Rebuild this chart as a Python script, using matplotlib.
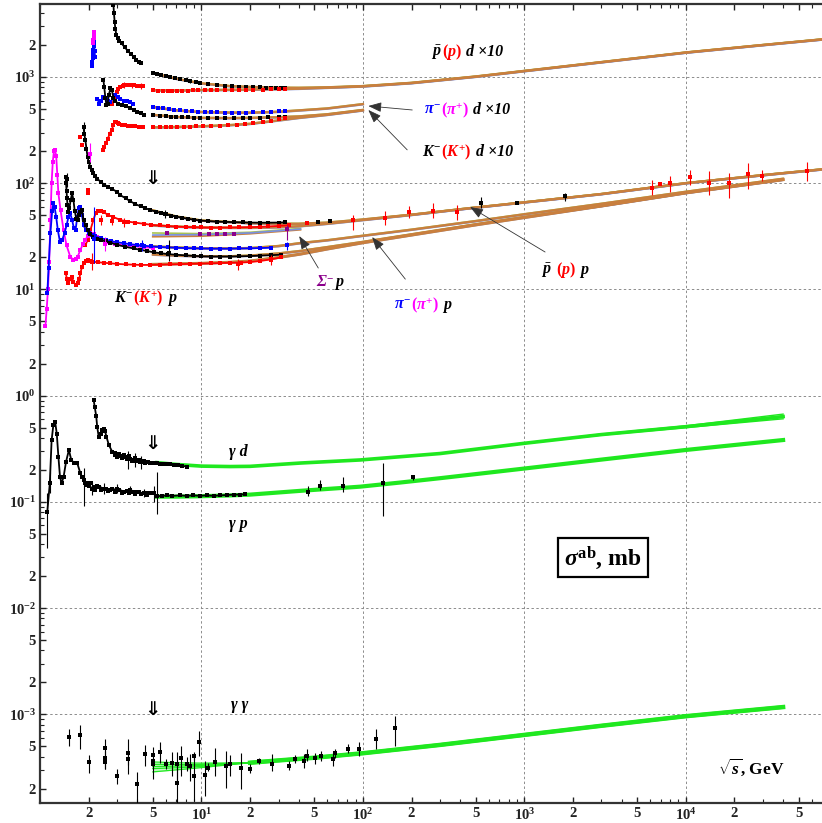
import numpy as np
import matplotlib
matplotlib.use("Agg")
import matplotlib.pyplot as plt
from matplotlib.offsetbox import TextArea, HPacker, AnnotationBbox
from matplotlib.ticker import FixedLocator, FixedFormatter, NullFormatter

plt.rcParams.update({
    'font.family': ['Liberation Serif', 'DejaVu Serif'],
    'font.weight': 'bold',
    'mathtext.fontset': 'custom',
    'mathtext.rm': 'Liberation Serif:bold',
    'mathtext.it': 'Liberation Serif:italic:bold',
    'mathtext.bf': 'Liberation Serif:bold',
    'mathtext.sf': 'Liberation Serif:bold',
})

# ---------------- hadron-deuteron data (x10) ----------------
pbar_d_lo_x = [2.85, 2.87, 2.90, 2.93, 2.97, 3.02, 3.10, 3.20, 3.35, 3.50, 3.65, 3.80, 3.95, 4.10, 4.20]
pbar_d_lo_y = [4800, 4000, 3300, 2800, 2500, 2330, 2200, 2070, 1900, 1760, 1650, 1550, 1460, 1390, 1340]
pbar_d_hi_x = [5.04, 5.3, 5.6, 6.0, 6.4, 6.9, 7.4, 8.0, 8.5, 9.2, 9.8, 11, 12.5, 14, 15.5, 17, 19, 21, 23, 25, 27, 29, 31, 33]
pbar_d_hi_y = [1090, 1070, 1050, 1020, 1000, 980, 960, 930, 910, 890, 870, 850, 835, 825, 815, 810, 805, 800, 797, 795, 792, 790, 789, 788]

p_d_lo_x = [2.80, 2.90, 3.00, 3.06, 3.15, 3.25, 3.38, 3.50, 3.63, 3.80, 4.00, 4.20, 4.37]
p_d_lo_y = [560, 640, 720, 770, 810, 830, 840, 845, 840, 835, 830, 825, 820]
p_d_hi_x = [5.04, 5.4, 5.8, 6.2, 6.6, 7.1, 7.6, 8.2, 8.8, 9.5, 10.5, 11.5, 12.5, 14, 15.5, 17, 19, 21, 24, 27, 30, 33]
p_d_hi_y = [750, 745, 740, 738, 737, 740, 742, 745, 748, 752, 752, 750, 748, 750, 752, 755, 757, 760, 762, 765, 768, 770]

pim_d_spike_x = [2.10, 2.11, 2.12, 2.13, 2.14, 2.15, 2.16, 2.17, 2.18, 2.19]
pim_d_spike_y = [1280, 1380, 1500, 1650, 1800, 2000, 2150, 1950, 1750, 1550]
pip_d_spike_x = [2.13, 2.14, 2.15, 2.16, 2.17]
pip_d_spike_y = [2100, 2250, 2450, 2650, 2350]
pim_d_lo_x = [2.27, 2.33, 2.40, 2.47, 2.55, 2.65, 2.73, 2.85, 2.93, 3.06, 3.15, 3.30, 3.45, 3.60, 3.75]
pim_d_lo_y = [620, 560, 600, 650, 640, 600, 580, 640, 670, 650, 620, 600, 590, 580, 560]
pim_d_hi_x = [5.04, 5.4, 5.8, 6.3, 6.8, 7.4, 8.0, 8.7, 9.5, 10.5, 11.5, 12.5, 14, 15.5, 17, 19, 21, 24, 27, 30, 33]
pim_d_hi_y = [522, 515, 505, 498, 490, 485, 480, 475, 470, 468, 466, 465, 462, 460, 460, 461, 463, 466, 470, 475, 480]

km_d_lo_x = [2.47, 2.50, 2.54, 2.58, 2.62, 2.67, 2.73, 2.78, 2.85, 2.93, 3.06, 3.20, 3.40, 3.60, 3.80, 4.00, 4.20, 4.40]
km_d_lo_y = [940, 800, 640, 540, 560, 680, 780, 760, 640, 590, 560, 545, 530, 510, 490, 470, 455, 440]
km_d_hi_x = [5.04, 5.5, 6.0, 6.5, 7.0, 7.6, 8.2, 9.0, 9.8, 11, 12.5, 14, 16, 18, 20, 23, 26, 30, 33]
km_d_hi_y = [440, 432, 426, 422, 420, 418, 416, 414, 412, 411, 410, 410, 410, 411, 412, 414, 416, 418, 420]

kp_d_lo_x = [2.44, 2.50, 2.56, 2.62, 2.70, 2.78, 2.85, 2.90, 2.95, 3.02, 3.10, 3.20, 3.35, 3.50, 3.70, 3.90, 4.10, 4.37]
kp_d_lo_y = [205, 220, 240, 260, 290, 320, 350, 375, 380, 370, 360, 355, 350, 347, 345, 342, 340, 338]
kp_d_hi_x = [5.04, 5.5, 6.0, 6.5, 7.1, 7.8, 8.5, 9.3, 10.2, 11.5, 13, 14.5, 16.5, 18.5, 21, 24, 27, 30, 33]
kp_d_hi_y = [335, 336, 337, 338, 339, 340, 341, 342, 343, 345, 347, 350, 354, 358, 365, 375, 388, 400, 411]

# fitted curves, hadron-deuteron
hd_fit_x = [5, 7, 10, 15, 20, 30, 40, 60, 100, 200, 500, 1000, 3000, 1e4, 3e4, 7e4]
pbar_d_fit = [1090, 960, 870, 820, 805, 792, 790, 798, 820, 880, 1010, 1140, 1380, 1700, 2000, 2260]
p_d_fit = [750, 745, 752, 756, 760, 768, 775, 792, 815, 875, 1005, 1135, 1375, 1695, 1995, 2255]
md_fit_x = [5, 7, 10, 15, 20, 30, 40, 60, 100]
pi_d_fit = [522, 485, 468, 462, 461, 470, 484, 505, 555]
km_d_fit = [440, 420, 412, 410, 412, 418, 425, 445, 489]
kp_d_fit = [335, 338, 343, 352, 362, 390, 412, 440, 485]

# ---------------- hadron-proton data ----------------
pbar_p_x = [1.86, 1.88, 1.91, 1.94, 1.97, 2.0, 2.05, 2.1, 2.14, 2.2, 2.27, 2.37, 2.5, 2.65, 2.8, 3.0, 3.15, 3.4, 3.6, 3.9,
            4.2, 4.5, 4.83, 5.2, 5.6, 6.0, 6.5, 7.0, 7.6, 8.2, 9.0, 9.8, 11, 12.5, 14, 16, 18, 20, 23, 26, 30, 33]
pbar_p_y = [339, 290, 255, 210, 176, 160, 142, 132, 125, 118, 110, 103, 97, 92, 88, 83, 77, 72, 68, 63.5,
            60.5, 58, 56, 54, 52.5, 51, 49.5, 48.5, 47.3, 46.3, 45.3, 44.5, 44, 43.5, 43.2, 43, 42.8, 42.6, 42.5, 42.5, 42.6, 42.8]
pp_x = [1.91, 1.97, 2.05, 2.14, 2.21, 2.30, 2.40, 2.50, 2.65, 2.85, 3.15, 3.5, 3.9, 4.4, 4.9, 5.5, 6.2, 7.0, 8.0, 9.0,
        10, 11.5, 13, 15, 17, 20, 23, 26, 30, 35]
pp_y = [26, 29, 36, 45, 52, 55, 55, 53, 50, 48, 45, 43.5, 42.5, 41.5, 40.5, 40, 39.5, 39, 38.7, 38.5,
        38.3, 38.2, 38.2, 38.3, 38.4, 38.6, 38.8, 39.2, 39.6, 40.2]
pp_stray_x = [1.78, 1.82, 1.97, 1.99]
pp_stray_y = [270, 230, 86, 80]

pim_p_x = [1.11, 1.13, 1.16, 1.19, 1.21, 1.23, 1.26, 1.29, 1.33, 1.37, 1.42, 1.46, 1.50, 1.54, 1.58, 1.62, 1.66, 1.70,
           1.74, 1.78, 1.82, 1.86, 1.93, 2.0, 2.1, 2.2, 2.37, 2.55, 2.75, 3.0, 3.3, 3.6, 4.0, 4.4, 4.9, 5.5, 6.2, 7.0,
           8.0, 9.0, 10, 11.5, 13, 15, 17, 20, 23, 27]
pim_p_y = [9.2, 16, 34, 55, 65, 60, 48, 36, 28, 29, 34, 40, 48, 52, 45, 38, 36, 48,
           58, 60, 50, 40, 36, 34, 32.5, 31.5, 30.5, 29.5, 28.5, 27.8, 27.2, 26.7, 26.2, 25.8, 25.4, 25.1, 24.9, 24.7,
           24.5, 24.4, 24.3, 24.2, 24.2, 24.2, 24.3, 24.4, 24.5, 24.7]
pip_p_x = [1.08, 1.10, 1.12, 1.14, 1.16, 1.18, 1.20, 1.22, 1.24, 1.26, 1.28, 1.30, 1.34, 1.40, 1.46, 1.54, 1.61,
           1.66, 1.71, 1.78, 1.85, 1.91, 1.98, 2.05, 2.15, 2.25, 2.37, 2.6, 2.9, 3.3, 3.8, 4.4, 5.0]
pip_p_y = [4.5, 6.5, 10, 18, 45, 100, 160, 200, 205, 180, 120, 80, 56, 36, 26, 20.3, 19,
           19.5, 20.3, 23.6, 27, 29.3, 32, 34, 33, 31, 29.5, 28, 27, 26, 25.5, 25, 24.5]

km_p_x = [1.44, 1.45, 1.46, 1.47, 1.48, 1.50, 1.52, 1.55, 1.58, 1.61, 1.64, 1.68, 1.71, 1.75, 1.78, 1.82, 1.86, 1.92,
          1.97, 2.05, 2.14, 2.25, 2.37, 2.55, 2.73, 3.0, 3.38, 3.8, 4.18, 4.6, 5.1, 5.6, 6.2, 7.0, 8.0, 9.0, 10,
          11.5, 13, 15, 17, 20, 23, 27, 31]
km_p_y = [115, 100, 85, 72, 62, 53, 58, 70, 80, 70, 55, 46, 45, 50, 53, 56, 45, 40,
          36, 33, 31, 30, 29.3, 28.3, 27.5, 26.3, 25.2, 24.3, 23.6, 23, 22.3, 21.9, 21.5, 21.2, 20.9, 20.7, 20.5,
          20.4, 20.4, 20.4, 20.5, 20.6, 20.8, 21.0, 21.2]
kp_p_x = [1.44, 1.47, 1.50, 1.54, 1.58, 1.61, 1.66, 1.71, 1.75, 1.78, 1.82, 1.86, 1.92, 1.97, 2.05, 2.14, 2.3, 2.5,
          2.73, 3.0, 3.4, 3.8, 4.2, 4.8, 5.5, 6.4, 7.4, 8.5, 9.8, 11.5, 13, 15, 17.5, 20, 23, 27, 31]
kp_p_y = [14.4, 12.5, 11.5, 12.5, 13, 11.8, 11, 11.5, 12.5, 14.4, 16.2, 17.8, 18.5, 19, 18.7, 18.2, 18.0, 17.8,
          17.6, 17.4, 17.2, 17.1, 17.0, 17.0, 17.1, 17.2, 17.3, 17.4, 17.5, 17.6, 17.7, 17.8, 17.9, 18.1, 18.5, 19.2, 20]

sigma_p_x = [6.1, 9.8, 11.1, 12.5, 14.0, 15.8, 33.8]
sigma_p_y = [34, 33.1, 33.1, 33.1, 33.1, 33.1, 36.8]

# high-energy pp / pbar-p points with errors
pp_he_x = [45, 86.7, 137, 194, 273, 385, 6140, 6920, 7980, 10600, 13960, 18500, 24300, 29700, 56400]
pp_he_y = [42, 45, 46.8, 53.3, 55.3, 53.8, 90, 98, 101, 115, 101, 99.8, 122, 118, 131]
pp_he_lo = [41, 36.3, 40.4, 46.8, 46.8, 45, 77, 96, 83, 95.8, 77, 72, 88, 104, 104]
pp_he_hi = [43, 50.2, 55.2, 60.6, 64.7, 62.2, 107, 100, 116, 133, 129, 124, 154, 133, 160]
pbar_p_he_x = [53, 62.8, 540, 900, 1785]
pbar_p_he_y = [43.4, 44, 65.6, 65.6, 75]
pbar_p_he_lo = [42.5, 43, 58.4, 64.5, 68]
pbar_p_he_hi = [44.3, 45, 73.7, 66.7, 81.4]

# fitted curves, hadron-proton
hp_fit_x = [5, 7, 10, 15, 20, 30, 40, 60, 100, 200, 500, 1000, 3000, 1e4, 3e4, 7e4]
pbar_p_fit = [55.5, 48.5, 44.5, 43, 42, 41.5, 41.5, 42.5, 45.5, 50.5, 59, 66, 79, 100, 119, 135]
pp_fit = [40, 39, 38.3, 38, 38, 38.5, 39.3, 41.5, 45, 50.3, 59, 66, 79, 100, 119, 135]
mp_fit_x = [5, 7, 10, 15, 20, 30, 41, 60, 100, 200, 500, 1000, 3000, 1e4, 4e4]
pi_p_fit = [25.4, 24.8, 24.4, 24.3, 24.5, 25.6, 27.3, 29, 32, 36.5, 44, 51, 64, 83, 110]
km_p_fit = [21.3, 20.8, 20.5, 20.5, 20.8, 21.8, 23, 25, 28, 33, 41, 48, 61, 81, 108]
kp_p_fit = [17.2, 17.4, 17.6, 18.0, 18.5, 20, 21.5, 24, 27.5, 32.5, 40.5, 47.5, 61, 81, 108]
sig_fit_x = [5, 10, 20, 41]
sig_fit_a = [34, 33.5, 34.5, 37.5]
sig_fit_b = [31.4, 31.8, 33.5, 36.5]
sig_fit_c = [32.5, 32.8, 34, 37]

# ---------------- photon data ----------------
gp_x = [1.11, 1.15, 1.18, 1.21, 1.24, 1.27, 1.30, 1.33, 1.36, 1.40, 1.45, 1.51, 1.56, 1.62, 1.70, 1.78, 1.87, 1.98,
        2.10, 2.26, 2.48, 2.73, 3.0, 3.3, 3.63, 3.99, 4.39, 4.71, 5.06, 5.31, 5.7, 6.13, 6.6, 7.4, 8.1, 8.9, 9.8,
        10.8, 11.9, 13.1, 14.4, 15.8, 17.2, 18.7]
gp_y = [0.081, 0.149, 0.38, 0.53, 0.57, 0.44, 0.266, 0.172, 0.149, 0.172, 0.239, 0.308, 0.25, 0.232, 0.232, 0.185,
        0.159, 0.149, 0.133, 0.142, 0.133, 0.128, 0.133, 0.125, 0.128, 0.125, 0.120, 0.122, 0.120, 0.113, 0.114,
        0.115, 0.114, 0.115, 0.114, 0.115, 0.114, 0.115, 0.114, 0.115, 0.116, 0.117, 0.117, 0.118]
gp_x2 = [1.82, 1.90, 1.95, 2.02, 2.06, 2.15, 2.2, 2.32, 2.4, 2.55, 2.62, 2.8, 2.9, 3.1, 3.2, 3.45, 3.55, 3.75, 3.85,
         4.1, 4.25, 4.5, 4.6, 4.85]
gp_y2 = [0.17, 0.15, 0.145, 0.14, 0.152, 0.138, 0.13, 0.137, 0.128, 0.132, 0.126, 0.131, 0.124, 0.128, 0.122, 0.127,
         0.121, 0.124, 0.119, 0.123, 0.118, 0.121, 0.117, 0.12]
gp_err_x = [1.11, 1.15, 1.87, 2.10, 2.48, 3.0, 3.63, 4.39, 5.06, 5.31]
gp_err_y = [0.081, 0.149, 0.159, 0.133, 0.133, 0.133, 0.128, 0.120, 0.120, 0.113]
gp_err_lo = [0.037, 0.12, 0.091, 0.115, 0.118, 0.12, 0.118, 0.11, 0.10, 0.077]
gp_err_hi = [0.12, 0.19, 0.21, 0.155, 0.15, 0.147, 0.14, 0.132, 0.14, 0.19]
gp_he_x = [45.4, 53.9, 75.2, 134, 205]
gp_he_y = [0.125, 0.142, 0.142, 0.149, 0.170]
gp_he_lo = [0.113, 0.128, 0.124, 0.073, 0.160]
gp_he_hi = [0.142, 0.159, 0.172, 0.232, 0.180]

gd_x = [2.15, 2.18, 2.23, 2.26, 2.31, 2.37, 2.42, 2.48, 2.53, 2.58, 2.67, 2.80, 2.93, 3.05, 3.15, 3.27, 3.38, 3.5,
        3.63, 3.77, 3.90, 4.04, 4.18, 4.34, 4.50, 4.66, 4.83, 5.06, 5.31, 5.57, 5.83, 6.1, 6.42, 6.8, 7.2, 7.6, 8.13]
gd_y = [0.91, 0.79, 0.64, 0.51, 0.41, 0.44, 0.47, 0.49, 0.46, 0.41, 0.343, 0.297, 0.277, 0.285, 0.272, 0.265, 0.266,
        0.26, 0.254, 0.25, 0.254, 0.245, 0.239, 0.24, 0.234, 0.236, 0.232, 0.231, 0.232, 0.229, 0.228, 0.226, 0.225,
        0.223, 0.22, 0.218, 0.215]
gd_x2 = [2.9, 3.0, 3.1, 3.2, 3.3, 3.45, 3.55, 3.7, 3.85, 3.95, 4.1, 4.25, 4.4]
gd_y2 = [0.29, 0.265, 0.28, 0.26, 0.275, 0.255, 0.27, 0.245, 0.26, 0.24, 0.25, 0.235, 0.245]

g_fit_x = [5.3, 7, 10, 15, 20, 41, 96, 170, 300, 1000, 3000, 1e4, 4e4]
gp_fit = [0.112, 0.112, 0.113, 0.115, 0.117, 0.127, 0.139, 0.152, 0.167, 0.206, 0.25, 0.308, 0.382]
gd_fit = [0.234, 0.225, 0.217, 0.215, 0.216, 0.232, 0.248, 0.266, 0.285, 0.356, 0.43, 0.51, 0.635]
gd_fit_lo = [0.234, 0.225, 0.217, 0.215, 0.216, 0.232, 0.248, 0.266, 0.285, 0.354, 0.425, 0.50, 0.605]
gd_fit_hi = [0.234, 0.225, 0.217, 0.215, 0.216, 0.232, 0.248, 0.266, 0.285, 0.358, 0.435, 0.52, 0.67]

gg_x = [1.51, 1.76, 2.0, 2.52, 2.52, 2.52, 3.0, 3.51, 3.51, 4.0, 4.5, 5.0, 5.0, 5.0, 5.5, 6.0, 6.6, 7.1, 7.1, 7.5,
        8.1, 8.5, 9.0, 9.0, 9.6, 10.5, 11.0, 12.2, 14.1, 15.1, 17.6, 20.1, 22.8, 27.3, 35.0, 37.7, 42.9, 45, 50.7,
        55, 64.9, 67.4, 80.4, 94.9, 121, 158]
gg_y = [6.16, 6.39, 3.58, 4.85, 3.9, 3.56, 2.63, 4.35, 3.77, 2.19, 4.20, 4.11, 3.63, 3.38, 4.42, 3.38, 3.51, 3.38,
        2.27, 3.9, 3.38, 3.26, 2.63, 4.05, 5.49, 2.68, 3.15, 3.56, 3.26, 3.38, 3.15, 3.08, 3.63, 3.38, 3.26, 3.77,
        3.63, 4.05, 3.9, 4.05, 3.77, 4.29, 4.75, 4.68, 5.82, 7.38]
gg_lo = [5.03, 4.75, 2.78, 4.2, 3.04, 3.04, 2.19, 2.72, 3.3, 1.47, 3.26, 2.44, 3.3, 3.1, 3.51, 3.04, 2.63, 2.27,
         1.47, 2.63, 2.93, 2.36, 1.53, 3.7, 4.05, 1.70, 2.93, 2.63, 2.04, 2.63, 1.97, 2.82, 3.38, 2.93, 2.99, 3.51,
         3.15, 3.63, 3.38, 3.63, 3.26, 3.9, 4.35, 4.05, 4.68, 5.03]
gg_hi = [7.33, 7.88, 4.17, 5.9, 4.5, 4.2, 3.08, 5.9, 4.2, 2.87, 5.14, 4.96, 3.9, 3.6, 5.49, 3.82, 4.42, 4.42, 3.51,
         5.03, 3.99, 4.2, 4.05, 4.4, 6.97, 3.63, 3.51, 4.85, 4.52, 4.14, 4.29, 3.38, 3.9, 4.2, 3.63, 4.11, 4.2, 4.68,
         4.35, 4.52, 4.35, 4.75, 5.22, 5.49, 7.22, 9.64]
gg_fit_x = [20, 30, 50, 100, 300, 1000, 3000, 1e4, 4e4]
gg_fit = [3.5, 3.68, 3.9, 4.3, 5.15, 6.4, 7.8, 9.6, 11.7]
gg_fan_x = [5, 7, 10, 14, 20]
gg_fan = [[3.56, 3.50, 3.47, 3.48, 3.5],
          [3.38, 3.36, 3.38, 3.44, 3.5],
          [3.22, 3.25, 3.30, 3.40, 3.5],
          [3.08, 3.14, 3.23, 3.36, 3.5],
          [2.87, 3.00, 3.15, 3.32, 3.5]]
GG_UNIT = 1e-4

# ---------------- styles ----------------
BLACK, RED, BLUE, MAG, PURP = 'black', '#ff0000', '#0000ff', '#ff00ff', '#8b008b'
FIT, FIT_B, FIT_G = '#c97f3e', '#7890e0', '#a9c34f'
GREEN = '#1fe81f'

fig = plt.figure(figsize=(8.22, 8.23), dpi=100)
ax = fig.add_axes([40 / 822, 20 / 823, 782 / 822, 799 / 823])
ax.set_xscale('log')
ax.set_yscale('log')
ax.set_xlim(1.0, 10 ** 4.843)
ax.set_ylim(10 ** -3.835, 10 ** 3.687)


def pts(x, y, color, ms=2.3, z=4, joined=False):
    ax.plot(x, y, ls='-' if joined else 'none', lw=1.3, marker='s', ms=ms, mew=0, color=color, zorder=z)


def ebar(x, y, lo, hi, color, ms=2.3):
    y = np.asarray(y, float)
    ax.errorbar(x, y, yerr=[y - np.asarray(lo), np.asarray(hi) - y], fmt='s', ms=ms, mew=0,
                color=color, ecolor=color, elinewidth=0.8, capsize=1.8, capthick=0.8, zorder=4)


def band(x, y, lw=1.7):
    y = np.asarray(y, float)
    ax.plot(x, y * 0.985, color=FIT_B, lw=1.0, zorder=3)
    ax.plot(x, y * 1.012, color=FIT_G, lw=1.0, zorder=3)
    ax.plot(x, y, color=FIT, lw=lw, zorder=3.2)


# fits
band(hd_fit_x, pbar_d_fit)
band(hd_fit_x, p_d_fit)
band(md_fit_x, pi_d_fit)
band(md_fit_x, km_d_fit)
band(md_fit_x, kp_d_fit)
band(hp_fit_x, pbar_p_fit)
band(hp_fit_x, pp_fit)
band(mp_fit_x, pi_p_fit)
band(mp_fit_x, km_p_fit)
band(mp_fit_x, kp_p_fit, lw=2.2)
ax.plot(sig_fit_x, sig_fit_a, color=FIT_G, lw=1.2, zorder=3)
ax.plot(sig_fit_x, sig_fit_b, color=FIT, lw=1.4, zorder=3)
ax.plot(sig_fit_x, sig_fit_c, color=FIT_B, lw=1.2, zorder=3)

# photon fits
ax.plot(g_fit_x, gp_fit, color=GREEN, lw=3.0, zorder=3)
ax.plot(g_fit_x, gd_fit, color=GREEN, lw=2.6, zorder=3)
ax.plot(g_fit_x, gd_fit_lo, color=GREEN, lw=1.0, zorder=3)
ax.plot(g_fit_x, gd_fit_hi, color=GREEN, lw=1.0, zorder=3)
gg_fit_arr = np.asarray(gg_fit) * GG_UNIT
ax.plot(gg_fit_x, gg_fit_arr, color=GREEN, lw=3.2, zorder=3)
ax.plot(gg_fit_x, gg_fit_arr * 0.975, color=GREEN, lw=1.0, zorder=3)
ax.plot(gg_fit_x, gg_fit_arr * 1.025, color=GREEN, lw=1.0, zorder=3)
for row in gg_fan:
    ax.plot(gg_fan_x, np.asarray(row) * GG_UNIT, color=GREEN, lw=0.9, zorder=3)
ax.fill_between(gg_fan_x, np.asarray(gg_fan[-1]) * GG_UNIT, np.asarray(gg_fan[0]) * GG_UNIT,
                color=GREEN, alpha=0.25, lw=0, zorder=2.9)

# hadron-deuteron points
pts(pbar_d_lo_x, pbar_d_lo_y, BLACK, ms=2.6, joined=True)
pts(pbar_d_hi_x, pbar_d_hi_y, BLACK, ms=2.6)
pts(p_d_lo_x, p_d_lo_y, RED, ms=2.6, joined=True)
pts(p_d_hi_x, p_d_hi_y, RED, ms=2.6)
pts(pim_d_spike_x, pim_d_spike_y, BLUE, joined=True)
pts(pip_d_spike_x, pip_d_spike_y, MAG, joined=True)
pts(pim_d_lo_x, pim_d_lo_y, BLUE, ms=2.6, joined=True)
pts(pim_d_hi_x, pim_d_hi_y, BLUE, ms=2.6)
pts(km_d_lo_x, km_d_lo_y, BLACK, ms=2.6, joined=True)
pts(km_d_hi_x, km_d_hi_y, BLACK, ms=2.6)
pts(kp_d_lo_x, kp_d_lo_y, RED, ms=2.6, joined=True)
pts(kp_d_hi_x, kp_d_hi_y, RED, ms=2.6)
ebar([3.3, 3.7, 4.2], [840, 835, 825], [790, 780, 775], [890, 880, 870], RED)
ebar([8.5], [910], [870], [960], BLACK)

# hadron-proton points
pts(pbar_p_x, pbar_p_y, BLACK, ms=2.6, joined=True)
pts(pp_x, pp_y, RED, ms=2.6, joined=True)
pts(pp_stray_x, pp_stray_y, RED)
pts(pip_p_x, pip_p_y, MAG, ms=2.8, joined=True)
pts(pim_p_x, pim_p_y, BLUE, ms=2.8, joined=True)
pts(km_p_x, km_p_y, BLACK, ms=2.8, joined=True)
pts(kp_p_x, kp_p_y, RED, ms=2.8, joined=True)
pts(sigma_p_x, sigma_p_y, PURP, ms=3.2)
ebar([33.8], [36.8], [29.3], [40.4], PURP, ms=3.2)
ebar([2.15, 4.28, 33.8], [30, 26, 26], [17.8, 22.8, 23.6], [60, 29.3, 28.2], BLUE)
ebar([2.05, 2.54], [190, 27], [157, 22.8], [238, 31.4], MAG)
ebar([1.47, 5.98, 6.3, 1.86], [110, 51, 22, 339], [92, 47, 18.6, 300], [125, 56, 29, 380], BLACK)
ebar([2.1, 2.4, 2.8, 3.3, 16.9, 27], [18, 45, 44, 43, 17.5, 19], [15.3, 40, 40, 39, 15.3, 17],
     [21.8, 50, 48, 47, 19.5, 21], RED)
ebar(pp_he_x, pp_he_y, pp_he_lo, pp_he_hi, RED)
ebar(pbar_p_he_x, pbar_p_he_y, pbar_p_he_lo, pbar_p_he_hi, BLACK)

# photon points
pts(gp_x, gp_y, BLACK, ms=2.4, joined=True)
pts(gp_x2, gp_y2, BLACK, ms=2.6)
ebar(gp_err_x, gp_err_y, gp_err_lo, gp_err_hi, BLACK, ms=2.4)
ebar(gp_he_x, gp_he_y, gp_he_lo, gp_he_hi, BLACK, ms=2.4)
pts(gd_x, gd_y, BLACK, ms=2.6, joined=True)
pts(gd_x2, gd_y2, BLACK, ms=2.6)
ebar([3.5, 3.9, 4.2], [0.26, 0.254, 0.239], [0.205, 0.215, 0.205], [0.3, 0.29, 0.27], BLACK, ms=2.4)
gg_yv = np.asarray(gg_y) * GG_UNIT
ebar(gg_x, gg_yv, np.asarray(gg_lo) * GG_UNIT, np.asarray(gg_hi) * GG_UNIT, BLACK, ms=2.2)

# ---------------- axes, ticks, grid ----------------
decades_x = [10, 100, 1e3, 1e4]
decades_y = [1e-3, 1e-2, 1e-1, 1, 10, 100, 1e3]
for d in decades_x:
    ax.axvline(d, color='#8c8c8c', lw=0.7, ls=(0, (2.5, 2.5)), zorder=1)
for d in decades_y:
    ax.axhline(d, color='#8c8c8c', lw=0.7, ls=(0, (2.5, 2.5)), zorder=1)


def sup(n):
    return r'$10^{%d}$' % n


xmaj, xlab, xmin = [], [], []
for n in range(0, 5):
    for k in range(1, 10):
        v = k * 10 ** n
        if v > 10 ** 4.843:
            continue
        if k == 1 and n > 0:
            xmaj.append(v); xlab.append(sup(n))
        elif k in (2, 5):
            xmaj.append(v); xlab.append(str(k))
        else:
            xmin.append(v)
ymaj, ylab, ymin = [], [], []
for n in range(-4, 4):
    for k in range(1, 10):
        v = k * 10.0 ** n
        if v < 10 ** -3.835 or v > 10 ** 3.687:
            continue
        if k == 1:
            ymaj.append(v); ylab.append(sup(n))
        elif k in (2, 5):
            ymaj.append(v); ylab.append(str(k))
        else:
            ymin.append(v)

ax.xaxis.set_major_locator(FixedLocator(xmaj))
ax.xaxis.set_major_formatter(FixedFormatter(xlab))
ax.xaxis.set_minor_locator(FixedLocator(xmin))
ax.xaxis.set_minor_formatter(NullFormatter())
ax.yaxis.set_major_locator(FixedLocator(ymaj))
ax.yaxis.set_major_formatter(FixedFormatter(ylab))
ax.yaxis.set_minor_locator(FixedLocator(ymin))
ax.yaxis.set_minor_formatter(NullFormatter())
ax.tick_params(which='both', direction='in', top=True, right=False, labelsize=10.5, colors='#222222')
ax.tick_params(which='major', length=4.5, width=1.0, pad=3)
ax.tick_params(which='minor', length=2.8, width=0.8)
ax.spines['right'].set_visible(False)
for s in ('left', 'bottom', 'top'):
    ax.spines[s].set_linewidth(1.6)
    ax.spines[s].set_color('#333333')

# ---------------- labels ----------------
def label(x, y, parts, size=11.5):
    boxes = [TextArea(s, textprops=dict(color=c, fontsize=size, fontweight='bold', fontstyle='italic'))
             for s, c in parts]
    pack = HPacker(children=boxes, align='baseline', pad=0, sep=0)
    ab = AnnotationBbox(pack, (x, y), xycoords='data', frameon=False, box_alignment=(0.5, 0.5), pad=0, zorder=6)
    ax.add_artist(ab)


label(442, 1720, [(r'$\bar{p}$', BLACK), (r'$(p)$', RED), (' d ×10', BLACK)])
label(442, 489, [(r'$\pi^{-}$', BLUE), (r'$(\pi^{+})$', MAG), (' d ×10', BLACK)])
label(442, 197, [(r'$K^{-}$', BLACK), (r'$(K^{+})$', RED), (' d ×10', BLACK)])
label(62.8, 11.5, [('Σ', PURP), (r'${}^{-}$', PURP), (r'$p$', BLACK)])
label(236, 7.13, [(r'$\pi^{-}$', BLUE), (r'$(\pi^{+})$', MAG), (r'$\ p$', BLACK)])
label(1786, 15.2, [(r'$\bar{p}$', BLACK), (r'$\ (p)$', RED), (r'$\ p$', BLACK)])
label(4.5, 8.3, [(r'$K^{-}$', BLACK), (r'$(K^{+})$', RED), (r'$\ p$', BLACK)])
label(16.9, 0.294, [('γ d', BLACK)])
label(16.9, 0.0618, [('γ p', BLACK)])
label(17.3, 1.22e-3, [('γ γ', BLACK)])

for yv in (112, 0.358, 1.12e-3):
    ax.text(5.0, yv, '⇓', family='DejaVu Sans', fontsize=14, ha='center', va='center', zorder=6)

ax.text(0.72, 0.307, r'$\sigma^{\mathrm{ab}}$, mb', transform=ax.transAxes, fontsize=17, ha='center',
        va='center', zorder=7,
        bbox=dict(boxstyle='square,pad=0.25', fc='white', ec='black', lw=1.6))
ax.text(0.910, 0.045, r'$\sqrt{s}$, GeV', transform=ax.transAxes, fontsize=12.5, ha='center', va='center')

arrows = [((108, 533), (202, 489)),
          ((108, 489), (188, 206)),
          ((40.3, 31.8), (52.9, 15.9)),
          ((114, 31.1), (183, 12.5)),
          ((461, 59.7), (1343, 22.5))]
for head, tail in arrows:
    ax.annotate('', xy=head, xytext=tail,
                arrowprops=dict(arrowstyle='-|>,head_length=0.8,head_width=0.3', color='#333333',
                                lw=0.6, shrinkA=0, shrinkB=0), zorder=6)

fig.savefig('out.png', dpi=100, facecolor='white')
